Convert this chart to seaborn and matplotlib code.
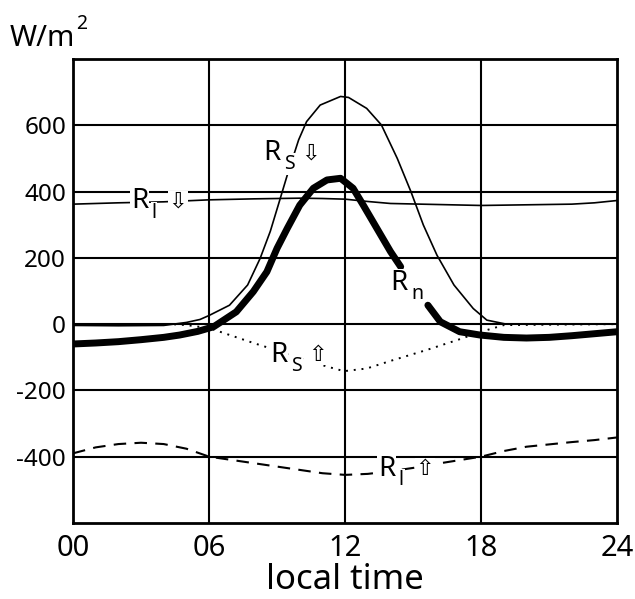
import numpy as np
import pandas as pd
import matplotlib
matplotlib.use('Agg')
import matplotlib.pyplot as plt
import seaborn as sns

# radiation components (W/m2) vs local time
rs_down_x = [0, 2, 4, 5.0, 5.6, 6.0, 6.9, 7.7, 8.25, 8.7, 9.05, 9.45, 9.95, 10.3, 10.9, 11.8, 12.15,
             12.95, 13.6, 14.3, 14.9, 15.45, 16.05, 16.8, 17.65, 18.25, 19.1, 24]
rs_down = [-4, -5, -4, 5, 14, 26, 57, 118, 198, 280, 359, 450, 556, 611, 661, 687, 684,
           651, 601, 500, 400, 299, 208, 118, 47, 12, 0, 0]

rl_down_x = [0, 2, 4, 6, 8, 10, 11, 12, 13, 14, 16, 18, 20, 22, 23, 24]
rl_down = [362, 366, 369, 375, 378, 380, 379, 377, 370, 364, 361, 358, 360, 362, 366, 373]

rs_up_x = [0, 4.3, 5.0, 6.0, 7.0, 8.0, 8.7, 9.6, 10.4, 11.2, 11.95, 12.95, 14.1, 15.6, 16.95, 18.0, 19.0, 24]
rs_up = [0, 0, -3, -12, -35, -58, -73, -95, -112, -128, -142, -134, -109, -78, -48, -23, -3, 0]

rl_up_x = list(range(25))
rl_up = [-390, -372, -362, -358, -362, -376, -400, -410, -420, -430, -440, -450, -455, -452, -444,
         -434, -422, -411, -400, -383, -370, -363, -356, -350, -342]

# net radiation, broken where its label sits
rn_x1 = [0, 1, 2, 3, 4, 4.7, 5.5, 6.2, 7.2, 7.95, 8.55, 9.0, 9.45, 10.0, 10.6, 11.2, 11.8,
         12.35, 12.8, 13.4, 14.0, 14.45]
rn_y1 = [-60, -57, -53, -47, -40, -33, -22, -8, 37, 98, 158, 229, 289, 359, 410, 435, 440,
         410, 359, 289, 219, 173]
rn_x2 = [15.65, 16.2, 17.05, 17.95, 19, 20, 21, 22, 23, 24]
rn_y2 = [57, 7, -23, -33, -40, -42, -40, -35, -29, -23]

sns.set_style('white')
plt.rcParams['font.family'] = ['Noto Sans', 'DejaVu Sans']
plt.rcParams['axes.unicode_minus'] = False
plt.rcParams['text.color'] = 'black'
plt.rcParams['xtick.color'] = 'black'
plt.rcParams['ytick.color'] = 'black'
plt.rcParams['axes.labelcolor'] = 'black'

fig = plt.figure(figsize=(6.35, 5.99), dpi=100)
ax = fig.add_axes([0.115, 0.127, 0.857, 0.7745])

for v in [-400, -200, 0, 200, 400, 600]:
    ax.axhline(v, color='black', lw=1.5, zorder=1)
for v in [6, 12, 18]:
    ax.axvline(v, color='black', lw=1.5, zorder=1)

sns.lineplot(x=rs_down_x, y=rs_down, ax=ax, color='black', lw=1.2, zorder=3)
sns.lineplot(x=rl_down_x, y=rl_down, ax=ax, color='black', lw=1.2, zorder=3)
sns.lineplot(x=rs_up_x, y=rs_up, ax=ax, color='black', lw=1.4, linestyle=(0, (1, 3)), zorder=3)
sns.lineplot(x=rl_up_x, y=rl_up, ax=ax, color='black', lw=1.5, linestyle=(0, (6, 4)), zorder=3)
sns.lineplot(x=rn_x1, y=rn_y1, ax=ax, color='black', lw=5, zorder=4)
sns.lineplot(x=rn_x2, y=rn_y2, ax=ax, color='black', lw=5, zorder=4)

ax.set_xlim(0, 24)
ax.set_ylim(-600, 800)
ax.set_xticks([0, 6, 12, 18, 24])
ax.set_xticklabels(['00', '06', '12', '18', '24'])
ax.set_yticks([-400, -200, 0, 200, 400, 600])
ax.tick_params(axis='both', length=0)
ax.tick_params(axis='y', labelsize=17.5, pad=5)
ax.tick_params(axis='x', labelsize=21, pad=8)
for s in ax.spines.values():
    s.set_linewidth(2)
    s.set_color('black')
ax.set_xlabel('local time', fontsize=25, labelpad=0)

fig.text(10 / 635, 1 - 46 / 599, 'W/m', fontsize=21, va='baseline')
fig.text(76 / 635, 1 - 29 / 599, '2', fontsize=14, va='baseline')

box = dict(facecolor='white', edgecolor='none', pad=0.5)


def label(x, y, sub, arrow=None):
    ax.text(x, y, 'R', fontsize=20, va='center', ha='left', bbox=box, zorder=5)
    ax.annotate(sub, xy=(x, y), xytext=(15, -8), textcoords='offset points',
                fontsize=14, va='center', ha='left', bbox=box, zorder=5)
    if arrow:
        ax.annotate(arrow, xy=(x, y), xytext=(27, 0), textcoords='offset points',
                    fontsize=16, va='center', ha='left', family='DejaVu Sans', bbox=box, zorder=5)


label(2.55, 370, 'l', '⇩')
label(8.4, 516, 'S', '⇩')
label(14.0, 123, 'n')
label(8.7, -92, 'S', '⇧')
label(13.45, -437, 'l', '⇧')

fig.savefig('out.png', dpi=100)
